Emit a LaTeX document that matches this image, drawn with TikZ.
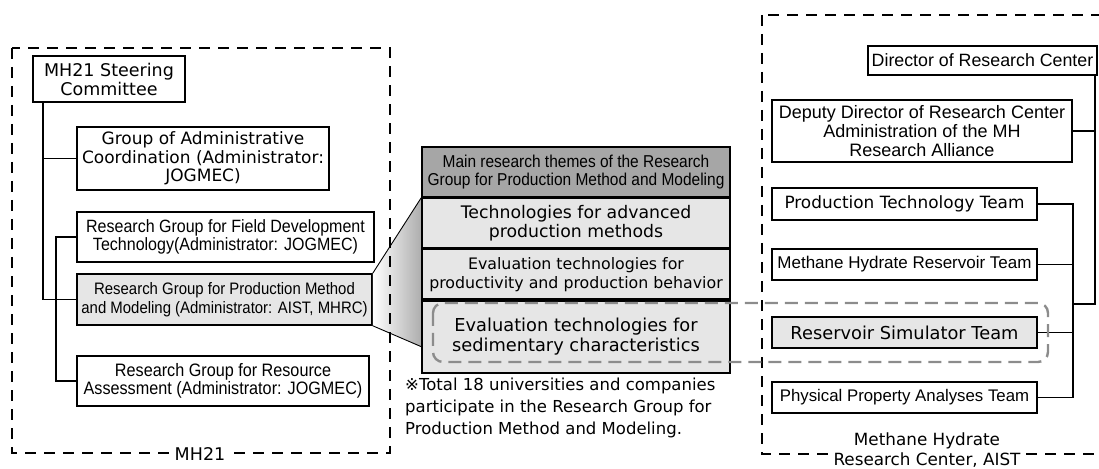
\documentclass[tikz,border=0pt]{standalone}
\usepackage{fontspec}
\setmainfont{DejaVu Sans}
\newfontfamily\lsfont{Liberation Sans}
\newfontfamily\narrowfont[FakeStretch=0.9]{Liberation Sans}
\usetikzlibrary{positioning}

\newcommand{\fsz}[2]{\fontsize{#1bp}{#2bp}\selectfont}

\definecolor{rowgray}{HTML}{E6E6E6}
\definecolor{headgray}{HTML}{A6A6A6}
\definecolor{simgray}{HTML}{8C8C8C}

\tikzset{
  orgbox/.style={draw, line width=1.6bp, align=center, inner sep=0pt},
  rowbox/.style={orgbox, fill=rowgray, minimum width=308bp},
  teambox/.style={orgbox, minimum width=265bp, minimum height=31bp},
  conn/.style={line width=1.5bp},
  groupline/.style={dash pattern=on 11bp off 8bp, line width=1.4bp},
  simline/.style={draw=simgray, dash pattern=on 13bp off 7bp, line width=2.4bp, rounded corners=10bp},
}

\begin{document}
\begin{tikzpicture}[x=1bp, y=-1bp]
\useasboundingbox (0,0) rectangle (1099,469);

% MH21 side
\node[orgbox, minimum width=152bp, minimum height=46bp, font=\fsz{17.5}{19}] (steer) at (109,79) {MH21 Steering\\Committee};
\node[orgbox, minimum width=252bp, minimum height=63bp, font=\fsz{17}{18.5}] (admin) at (203,158.5) {Group of Administrative\\Coordination (Administrator:\\JOGMEC)};
\node[orgbox, minimum width=297bp, minimum height=50bp, font=\narrowfont\fsz{17.8}{18.5}] (field) at (225.5,237) {Research Group for Field Development\\Technology(Administrator: JOGMEC)};
\node[orgbox, fill=rowgray, minimum width=295bp, minimum height=51bp, font=\narrowfont\fsz{16.6}{18.5}] (prod) at (224.5,299.5) {Research Group for Production Method\\and Modeling (Administrator: AIST, MHRC)};
\node[orgbox, minimum width=292bp, minimum height=50bp, font=\narrowfont\fsz{18}{18.5}] (res) at (223,381) {Research Group for Resource\\Assessment (Administrator: JOGMEC)};

\draw[conn] ([xshift=11bp]steer.south west) |- (admin.west);
\draw[conn] ([xshift=11bp]steer.south west) |- (prod.west);
\draw[conn] (field.west) -- ++(-20,0) |- (res.west);

% zoom into the themes
\coordinate (zb) at (422,347);
\shade[left color=white, right color=gray!65] (prod.north east) -- (422,197) -- (zb) -- (prod.south east) -- cycle;

\draw[groupline] (12,48) rectangle (390,453);
\node[fill=white, inner sep=3bp, font=\fsz{17.5}{19}] (mhlabel) at (200,454) {MH21};

% themes table
\node[orgbox, fill=headgray, minimum width=308bp, minimum height=50bp, font=\narrowfont\fsz{17.2}{17.5}] (head) at (576,172) {Main research themes of the Research\\Group for Production Method and Modeling};
\node[rowbox, minimum height=49bp, below=0pt of head, font=\fsz{17.3}{19}] (t1) {Technologies for advanced\\production methods};
\node[rowbox, minimum height=50bp, below=0pt of t1, font=\fsz{15.8}{19}] (t2) {Evaluation technologies for\\productivity and production behavior};
\node[rowbox, minimum height=72bp, below=0pt of t2, font=\fsz{17.8}{20}] (t3) {Evaluation technologies for\\sedimentary characteristics};

\draw[conn, line width=0.9bp] (prod.north east) -- (head.south west);
\draw[conn, line width=0.9bp] (prod.south east) -- (zb);

\node[anchor=north west, align=left, inner sep=0pt, font=\fsz{16.5}{22}] (note) at (405,378) {※Total 18 universities and companies\\participate in the Research Group for\\Production Method and Modeling.};

% Methane Hydrate Research Center side
\draw[groupline] (762,15) rectangle (1120,454);
\node[fill=white, inner sep=3bp, align=center, font=\fsz{16.8}{20}] (mhrc) at (927,450) {Methane Hydrate\\Research Center, AIST};

\node[orgbox, minimum width=229bp, minimum height=29bp, font=\lsfont\fsz{17.8}{19}] (dir) at (982.5,60.5) {Director of Research Center};
\node[orgbox, minimum width=300bp, minimum height=62bp, font=\lsfont\fsz{18}{19}] (dep) at (922,131) {Deputy Director of Research Center\\Administration of the MH\\Research Alliance};
\node[teambox, minimum height=32bp, font=\fsz{16.9}{19}] (ptt) at (904.5,204) {Production Technology Team};
\node[teambox, font=\lsfont\fsz{17}{19}] (mhr) at (904.5,264.5) {Methane Hydrate Reservoir Team};
\node[teambox, fill=rowgray, font=\fsz{17.8}{19}] (rst) at (904.5,332.5) {Reservoir Simulator Team};
\node[teambox, font=\lsfont\fsz{16.8}{19}] (ppa) at (904.5,397.5) {Physical Property Analyses Team};

\coordinate (join) at (1072,304);
\draw[conn] ([xshift=-3bp]dir.south east) |- (dep.east);
\draw[conn] ([xshift=-3bp]dir.south east) |- (join);
\draw[conn] (ptt.east) -- ++(35,0) |- (ppa.east);
\draw[conn] (mhr.east) -- ++(35,0);
\draw[conn] (rst.east) -- ++(35,0);

% reservoir simulation link
\draw[simline] (433,303) rectangle (1048,362);
\end{tikzpicture}
\end{document}
